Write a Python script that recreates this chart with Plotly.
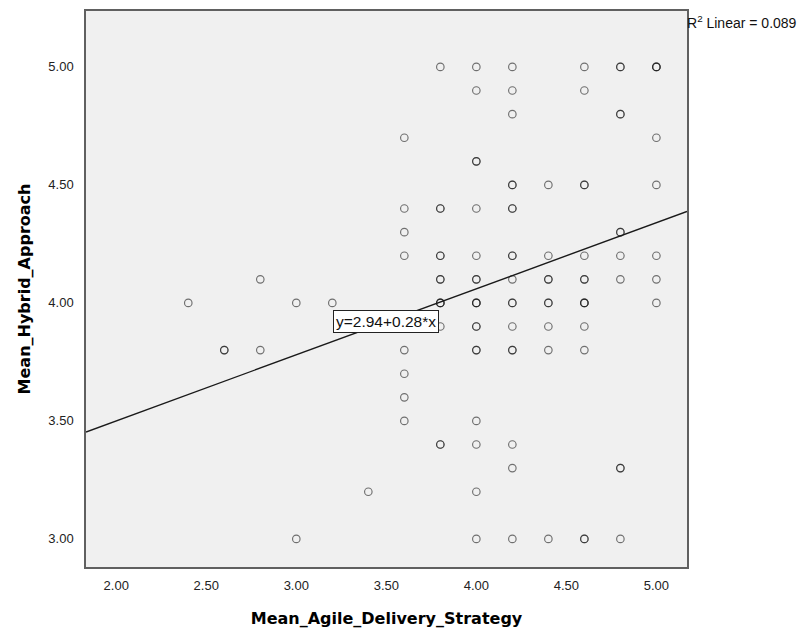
import plotly.graph_objects as go

# Respondent means (one entry per respondent), grouped by agile score
AGILE = (
    [2.4]
    + [2.6] * 2
    + [2.8] * 2
    + [3.0] * 2
    + [3.2]
    + [3.4]
    + [3.6] * 8
    + [3.8] * 13
    + [4.0] * 19
    + [4.2] * 18
    + [4.4] * 9
    + [4.6] * 14
    + [4.8] * 11
    + [5.0] * 8
)
HYBRID = (
    [4.0]
    + [3.8, 3.8]
    + [4.1, 3.8]
    + [4.0, 3.0]
    + [4.0]
    + [3.2]
    + [4.7, 4.4, 4.3, 4.2, 3.8, 3.7, 3.6, 3.5]
    + [5.0, 4.4, 4.4, 4.2, 4.2, 4.1, 4.1, 4.0, 4.0, 4.0, 3.9, 3.4, 3.4]
    + [5.0, 4.9, 4.6, 4.6, 4.4, 4.2, 4.1, 4.1, 4.0, 4.0, 4.0, 3.9, 3.9,
       3.8, 3.8, 3.5, 3.4, 3.2, 3.0]
    + [5.0, 4.9, 4.8, 4.5, 4.5, 4.4, 4.4, 4.2, 4.2, 4.1, 4.0, 4.0, 3.9,
       3.8, 3.8, 3.4, 3.3, 3.0]
    + [4.5, 4.2, 4.1, 4.1, 4.0, 4.0, 3.9, 3.8, 3.0]
    + [5.0, 4.9, 4.5, 4.5, 4.2, 4.1, 4.1, 4.0, 4.0, 4.0, 3.9, 3.8, 3.0, 3.0]
    + [5.0, 5.0, 4.8, 4.8, 4.3, 4.3, 4.2, 4.1, 3.3, 3.3, 3.0]
    + [5.0, 5.0, 5.0, 4.7, 4.5, 4.2, 4.1, 4.0]
)

# Linear fit and its summary
INTERCEPT = 2.94
SLOPE = 0.28
R_SQUARED = 0.089

X_TICKS = [2.0, 2.5, 3.0, 3.5, 4.0, 4.5, 5.0]
Y_TICKS = [3.0, 3.5, 4.0, 4.5, 5.0]
X_RANGE = [1.832, 5.170]
Y_RANGE = [2.881, 5.237]

X_TITLE = "Mean_Agile_Delivery_Strategy"
Y_TITLE = "Mean_Hybrid_Approach"

fig = go.Figure()

fig.add_trace(go.Scatter(
    x=AGILE, y=HYBRID, mode="markers",
    marker=dict(symbol="circle-open", size=7.5,
                color="rgba(25,25,25,0.6)",
                line=dict(width=1.15, color="rgba(25,25,25,0.6)")),
    hoverinfo="x+y", showlegend=False,
))

fit_x = X_RANGE
fit_y = [INTERCEPT + SLOPE * v for v in fit_x]
fig.add_trace(go.Scatter(
    x=fit_x, y=fit_y, mode="lines",
    line=dict(color="#1a1a1a", width=1.4),
    hoverinfo="skip", showlegend=False,
))

fig.add_annotation(
    x=3.5, y=3.92, xref="x", yref="y",
    text=f"y={INTERCEPT:.2f}+{SLOPE:.2f}*x",
    showarrow=False,
    font=dict(family="Liberation Sans", size=15.5, color="#111"),
    bgcolor="white", bordercolor="#222", borderwidth=1, borderpad=2,
)

fig.add_annotation(
    x=1, y=1, xref="paper", yref="paper",
    xanchor="left", yanchor="top", xshift=-2, yshift=0,
    text=f"R<sup>2</sup> Linear = {R_SQUARED:.3f}",
    showarrow=False,
    font=dict(family="Liberation Sans", size=14, color="#111"),
)

axis_common = dict(
    showgrid=False, zeroline=False, automargin=False,
    showline=True, mirror=True, linecolor="#606060", linewidth=1.5,
    ticks="", tickfont=dict(family="Liberation Sans", size=13, color="#222"),
    tickformat=".2f",
)

fig.update_xaxes(
    range=X_RANGE, tickvals=X_TICKS, ticklabelstandoff=6,
    title=dict(text=X_TITLE, standoff=20,
               font=dict(family="DejaVu Sans", size=16, weight="bold", color="#000")),
    **axis_common,
)
fig.update_yaxes(
    range=Y_RANGE, tickvals=Y_TICKS, ticklabelstandoff=8,
    title=dict(text=Y_TITLE, standoff=14,
               font=dict(family="DejaVu Sans", size=16, weight="bold", color="#000")),
    **axis_common,
)

fig.update_layout(
    width=797, height=631,
    margin=dict(l=86, r=110, t=11, b=64),
    paper_bgcolor="white", plot_bgcolor="#f0f0f0",
    font=dict(family="Liberation Sans"),
)

fig.write_html("out.html")
